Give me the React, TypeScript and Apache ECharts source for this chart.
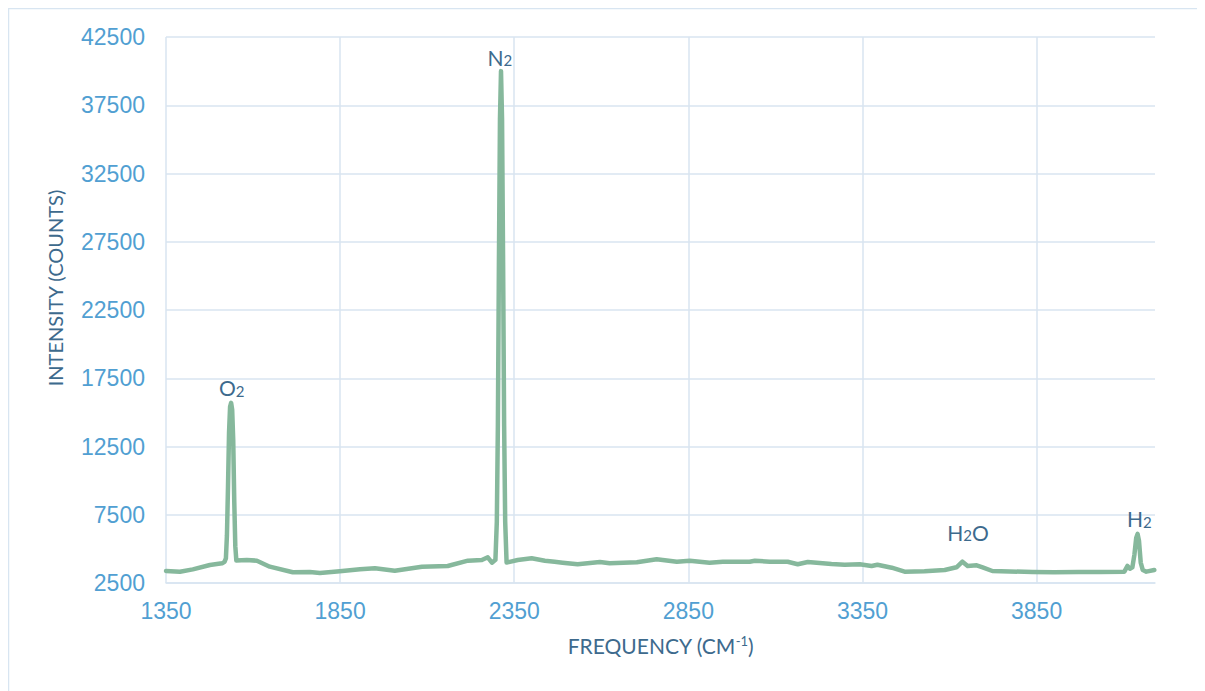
import React, { useEffect, useRef } from "react";
import * as echarts from "echarts";

// Raman spectrum
const frequency = [
  1350, 1390, 1427, 1476, 1511, 1518, 1522, 1525, 1528, 1531, 1534, 1537, 1540, 1543, 1546, 1549, 1552,
  1582, 1611, 1648, 1714, 1763, 1792, 1849, 1907, 1950, 2007, 2085, 2159, 2217, 2257, 2274, 2286,
  2296, 2300, 2303, 2306, 2309, 2312, 2315, 2318, 2321, 2324, 2328,
  2360, 2400, 2438, 2466, 2489, 2532, 2596, 2624, 2702, 2759, 2817, 2854, 2911, 2949, 3026, 3041,
  3084, 3135, 3164, 3193, 3261, 3299, 3342, 3376, 3393, 3434, 3471, 3528, 3551, 3586, 3620, 3637,
  3652, 3678, 3695, 3723, 3838, 3900, 3970, 4031, 4102, 4111, 4118, 4125, 4131, 4136, 4140, 4144,
  4149, 4155, 4165, 4188,
];
const intensity = [
  3380, 3330, 3500, 3820, 3940, 4050, 4300, 6000, 9500, 13500, 15400, 15700, 15200, 13000, 8500, 5200, 4150,
  4185, 4135, 3695, 3285, 3305, 3235, 3355, 3505, 3575, 3400, 3695, 3745, 4135, 4185, 4385, 3990,
  4200, 7000, 14000, 26000, 36500, 40000, 36500, 26000, 14000, 7000, 4000,
  4185, 4310, 4135, 4060, 3990, 3870, 4040, 3945, 4015, 4235, 4060, 4135, 3990, 4060, 4060, 4135,
  4060, 4060, 3870, 4040, 3890, 3840, 3870, 3745, 3840, 3620, 3330, 3355, 3400, 3450, 3650, 4060,
  3745, 3795, 3650, 3380, 3305, 3290, 3300, 3305, 3330, 3750, 3550, 3650, 4600, 5800, 6100, 5600,
  4000, 3450, 3330, 3450,
];

const xMin = 1350;
const xMax = 4190;
const xStep = 500;
const yMin = 2500;
const yMax = 42500;
const yStep = 5000;

const annotations = [
  { text: "{a|O}{b|2}", freq: 1539, value: 16930 },
  { text: "{a|N}{b|2}", freq: 2309, value: 41110 },
  { text: "{a|H}{b|2}{a|O}", freq: 3653, value: 6310 },
  { text: "{a|H}{b|2}", freq: 4145, value: 7335 },
];

const xTitle = "{m|FREQUENCY (CM}{s|-1}{m|)}";
const yTitle = "INTENSITY (COUNTS)";

const GRID = "#d8e5f1";
const TICK = "#519fd2";
const TITLE = "#3d6a8d";
const LINE = "#86b89c";

export default function App() {
  const ref = useRef<HTMLDivElement>(null);

  useEffect(() => {
    document.body.style.overflow = "hidden";
    if (!ref.current) return;
    const chart = echarts.init(ref.current, undefined, { renderer: "svg" });
    const data = frequency.map((f, i) => [f, intensity[i]]);
    chart.setOption({
      animation: false,
      grid: { left: 158, top: 29, right: 58, bottom: 116, containLabel: false },
      graphic: [
        {
          type: "rect",
          shape: { x: 0.5, y: 0.5, width: 1400, height: 900 },
          style: { fill: "none", stroke: GRID, lineWidth: 1.5 },
          silent: true,
        },
        {
          type: "text",
          x: 47,
          y: 280,
          rotation: Math.PI / 2,
          style: {
            text: yTitle,
            fill: TITLE,
            font: "20px Lato",
            textAlign: "center",
            textVerticalAlign: "middle",
          },
        },
      ],
      xAxis: {
        type: "value",
        min: xMin,
        max: xMax,
        interval: xStep,
        name: xTitle,
        nameLocation: "middle",
        nameGap: 51,
        nameTextStyle: {
          rich: {
            m: { fontFamily: "Lato", fontSize: 21, color: TITLE },
            s: { fontFamily: "Lato", fontSize: 13, color: TITLE, verticalAlign: "top", padding: [0, 0, 10, 0] },
          },
        },
        axisLine: { show: true, lineStyle: { color: GRID, width: 1.5 } },
        axisTick: { show: false },
        axisLabel: {
          color: TICK,
          fontFamily: "Liberation Sans",
          fontSize: 23,
          margin: 16,
          showMaxLabel: false,
          formatter: (v: number) => String(v),
        },
        splitLine: { show: true, showMaxLine: false, lineStyle: { color: GRID, width: 1.5 } },
      },
      yAxis: {
        type: "value",
        min: yMin,
        max: yMax,
        interval: yStep,
        axisLine: { show: false },
        axisTick: { show: false },
        axisLabel: {
          color: TICK,
          fontFamily: "Liberation Sans",
          fontSize: 23,
          margin: 21,
          formatter: (v: number) => String(v),
        },
        splitLine: { show: true, lineStyle: { color: GRID, width: 1.5 } },
      },
      series: [
        {
          type: "line",
          data,
          showSymbol: false,
          smooth: false,
          lineStyle: { color: LINE, width: 4.5, join: "round", cap: "round" },
          itemStyle: { color: LINE },
          markPoint: {
            symbol: "circle",
            symbolSize: 0,
            silent: true,
            label: {
              show: true,
              position: "inside",
              rich: {
                a: { fontFamily: "Lato", fontSize: 21, color: TITLE, verticalAlign: "bottom", lineHeight: 24 },
                b: { fontFamily: "Lato", fontSize: 15, color: TITLE, verticalAlign: "bottom", lineHeight: 20 },
              },
            },
            data: annotations.map((a) => ({
              coord: [a.freq, a.value],
              value: a.text,
              label: { formatter: a.text },
            })),
          },
        },
      ],
    });
    return () => chart.dispose();
  }, []);

  return <div ref={ref} style={{ width: 1205, height: 691 }} />;
}
